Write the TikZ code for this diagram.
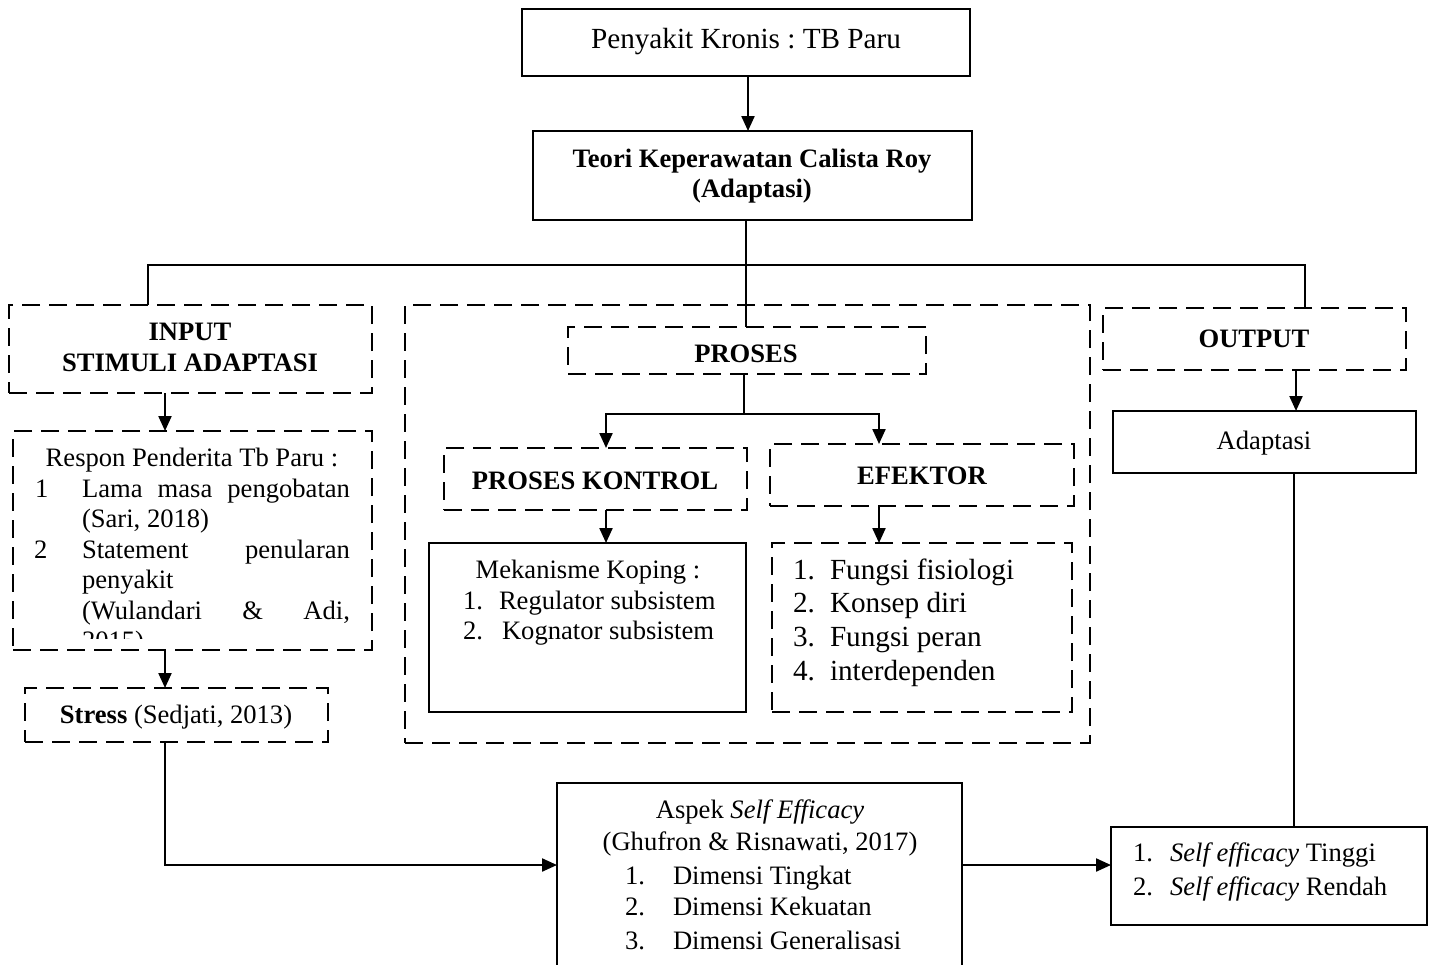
\documentclass[tikz,border=0pt]{standalone}
\usepackage{fontspec}
\setmainfont{Liberation Serif}
\usetikzlibrary{arrows.meta}
\frenchspacing
\newcommand\fsm{\fontsize{13.3pt}{16pt}\selectfont}
\newcommand\flg{\fontsize{14.6pt}{17pt}\selectfont}
\newcommand\mybox[6]{\node[#1, minimum width={(#5-#3)*0.5pt}, minimum height={(#6-#4)*0.5pt}] (#2) at ({(#3+#5)/2},{(#4+#6)/2}) {};}
\begin{document}
\begin{tikzpicture}[x=0.5pt,y=-0.5pt,
  solidbox/.style={draw, line width=1.3pt, inner sep=0pt, outer sep=0pt, rectangle},
  dashbox/.style={draw, line width=1.3pt, dash pattern=on 9pt off 4.5pt, inner sep=0pt, outer sep=0pt, rectangle},
  txt/.style={inner sep=0pt, outer sep=0pt, font=\fsm},
  conn/.style={line width=0.7pt},
  arr/.style={line width=1.1pt, -{Triangle[width=6.5pt,length=7.5pt]}},
]
\clip (0,0) rectangle (1434,964);
\fill[white] (0,0) rectangle (1434,964);

% boxes
\mybox{solidbox}{kronis}{522}{9}{970}{76}
\mybox{solidbox}{teori}{533}{131}{972}{220}
\mybox{dashbox}{input}{9}{305}{372}{393}
\mybox{dashbox}{respon}{13}{431}{372}{650}
\mybox{dashbox}{stress}{25}{688}{328}{742}
\mybox{dashbox}{prosesarea}{405}{305}{1090}{743}
\mybox{dashbox}{proses}{568}{327}{926}{374}
\mybox{dashbox}{kontrol}{444}{448}{747}{510}
\mybox{dashbox}{efektor}{770}{444}{1074}{506}
\mybox{solidbox}{koping}{429}{543}{746}{712}
\mybox{dashbox}{fungsi}{772}{543}{1072}{712}
\mybox{dashbox}{output}{1103}{308}{1406}{370}
\mybox{solidbox}{adaptasi}{1113}{411}{1416}{473}
\mybox{solidbox}{aspek}{557}{783}{962}{990}
\mybox{solidbox}{hasil}{1111}{827}{1427}{925}

% texts
\node[txt, font=\flg, anchor=base] (tkronis) at (746,48) {Penyakit Kronis : TB Paru};
\node[txt, font=\fsm\bfseries, anchor=base] (tteori1) at (752,167) {Teori Keperawatan Calista Roy};
\node[txt, font=\fsm\bfseries, anchor=base] (tteori2) at (752,197) {(Adaptasi)};

\node[txt, font=\fsm\bfseries, anchor=base] (tinput1) at (190,340) {INPUT};
\node[txt, font=\fsm\bfseries, anchor=base] (tinput2) at (190,371) {STIMULI ADAPTASI};

\node[txt, anchor=base] (tresp0) at (192,466) {Respon Penderita Tb Paru :};
\node[txt, anchor=base west] (tnum1) at (35,497) {1};
\node[txt, anchor=base west] (tresp1) at (82,497) {\makebox[134pt][s]{Lama masa pengobatan}};
\node[txt, anchor=base west] (tresp2) at (82,527) {(Sari, 2018)};
\node[txt, anchor=base west] (tnum2) at (34,558) {2};
\node[txt, anchor=base west] (tresp3) at (82,558) {\makebox[134pt][s]{Statement penularan}};
\node[txt, anchor=base west] (tresp4) at (82,588) {penyakit};
\node[txt, anchor=base west] (tresp5) at (82,619) {\makebox[134pt][s]{(Wulandari \& Adi,}};
\begin{scope}
\clip (13,431) rectangle (372,638);
\node[txt, anchor=base west] (tresp6) at (82,649) {2015)};
\end{scope}

\node[txt, anchor=base] (tstress) at (176,723) {\textbf{Stress} (Sedjati, 2013)};

\node[txt, font=\fsm\bfseries, anchor=base] (tproses) at (746,362) {PROSES};
\node[txt, font=\fsm\bfseries, anchor=base] (tkontrol) at (595,489) {PROSES KONTROL};
\node[txt, font=\fsm\bfseries, anchor=base] (tefektor) at (922,484) {EFEKTOR};

\node[txt, anchor=base] (tkop0) at (588,578) {Mekanisme Koping :};
\node[txt, anchor=base west] (tkopn1) at (463,609) {1.};
\node[txt, anchor=base west] (tkop1) at (499,609) {Regulator subsistem};
\node[txt, anchor=base west] (tkopn2) at (463,639) {2.};
\node[txt, anchor=base west] (tkop2) at (502,639) {Kognator subsistem};

\node[txt, font=\flg, anchor=base west] (tfn1) at (793,579) {1.};
\node[txt, font=\flg, anchor=base west] (tf1) at (830,579) {Fungsi fisiologi};
\node[txt, font=\flg, anchor=base west] (tfn2) at (793,612) {2.};
\node[txt, font=\flg, anchor=base west] (tf2) at (830,612) {Konsep diri};
\node[txt, font=\flg, anchor=base west] (tfn3) at (793,646) {3.};
\node[txt, font=\flg, anchor=base west] (tf3) at (830,646) {Fungsi peran};
\node[txt, font=\flg, anchor=base west] (tfn4) at (793,680) {4.};
\node[txt, font=\flg, anchor=base west] (tf4) at (830,680) {interdependen};

\node[txt, font=\fsm\bfseries, anchor=base] (toutput) at (1254,347) {OUTPUT};
\node[txt, anchor=base] (tadapt) at (1264,449) {Adaptasi};

\node[txt, anchor=base] (tasp0) at (760,818) {Aspek \textit{Self Efficacy}};
\node[txt, anchor=base] (tasp1) at (760,850) {(Ghufron \& Risnawati, 2017)};
\node[txt, anchor=base west] (taspn1) at (625,884) {1.};
\node[txt, anchor=base west] (tasp2) at (673,884) {Dimensi Tingkat};
\node[txt, anchor=base west] (taspn2) at (625,915) {2.};
\node[txt, anchor=base west] (tasp3) at (673,915) {Dimensi Kekuatan};
\node[txt, anchor=base west] (taspn3) at (625,949) {3.};
\node[txt, anchor=base west] (tasp4) at (673,949) {Dimensi Generalisasi};

\node[txt, anchor=base west] (thasn1) at (1133,861) {1.};
\node[txt, anchor=base west] (thas1) at (1170,861) {\textit{Self efficacy} Tinggi};
\node[txt, anchor=base west] (thasn2) at (1133,895) {2.};
\node[txt, anchor=base west] (thas2) at (1170,895) {\textit{Self efficacy} Rendah};

% connectors
\coordinate (ax) at (748,0);
\draw[arr] (ax |- kronis.south) -- (ax |- teori.north);

\coordinate (hub) at (746,265);
\coordinate (inL) at (148,265);
\coordinate (outR) at (1305,265);
\draw[conn] (hub |- teori.south) -- (hub);
\draw[conn] (inL |- input.north) -- (inL) -- (outR) -- (outR |- output.north);
\draw[conn] (hub) -- (hub |- proses.north);

\coordinate (lx) at (165,0);
\draw[arr] (lx |- input.south) -- (lx |- respon.north);
\draw[arr] (lx |- respon.south) -- (lx |- stress.north);
\coordinate (sj) at (165,865);
\draw[arr] (lx |- stress.south) -- (sj) -- (sj -| aspek.west);
\draw[arr] (aspek.east |- sj) -- (hasil.west |- sj);

\coordinate (pj) at (744,414);
\coordinate (kx) at (606,414);
\coordinate (ex) at (879,414);
\draw[conn] (pj |- proses.south) -- (pj);
\draw[arr] (pj) -- (kx) -- (kx |- kontrol.north);
\draw[arr] (pj) -- (ex) -- (ex |- efektor.north);
\draw[arr] (kx |- kontrol.south) -- (kx |- koping.north);
\draw[arr] (ex |- efektor.south) -- (ex |- fungsi.north);

\coordinate (ox) at (1296,0);
\draw[arr] (ox |- output.south) -- (ox |- adaptasi.north);
\coordinate (hx) at (1294,0);
\draw[conn] (hx |- adaptasi.south) -- (hx |- hasil.north);
\end{tikzpicture}
\end{document}
